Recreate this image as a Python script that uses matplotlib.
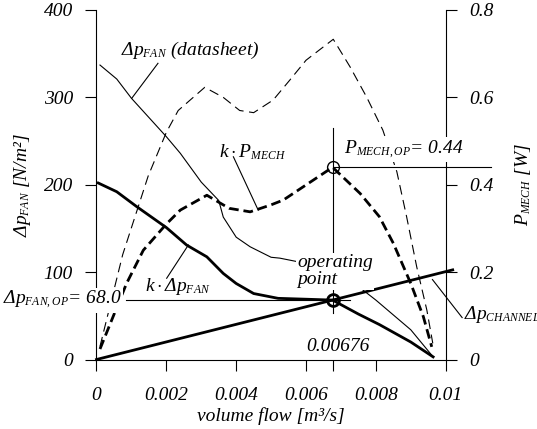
import matplotlib
matplotlib.use("Agg")
import matplotlib.pyplot as plt
import matplotlib._mathtext as mathtext_internals

# the original drawing uses rather small subscripts
mathtext_internals.SHRINK_FACTOR = 0.6

plt.rcParams['font.family'] = ['Liberation Serif', 'DejaVu Serif']
plt.rcParams['font.style'] = 'italic'
plt.rcParams['font.size'] = 14
plt.rcParams['mathtext.fontset'] = 'custom'
plt.rcParams['mathtext.rm'] = 'Liberation Serif'
plt.rcParams['mathtext.it'] = 'Liberation Serif:italic'
plt.rcParams['mathtext.bf'] = 'Liberation Serif:bold'
plt.rcParams['lines.scale_dashes'] = False

# fan curve from datasheet [N/m2]
flow_ds = [0.0001, 0.00058, 0.001, 0.002, 0.0024, 0.003, 0.0035, 0.00363, 0.004,
           0.0044, 0.005, 0.00525, 0.006, 0.00697, 0.008, 0.009, 0.00964]
dp_ds = [337, 321, 299, 255, 236, 203, 182, 163, 140, 129, 117, 116, 110, 100, 68, 34, 3]

# corrected fan curve k*dp
flow_k = [0.00005, 0.00058, 0.00115, 0.002, 0.00258, 0.00316, 0.00363, 0.004, 0.0045,
          0.0052, 0.006, 0.00676, 0.0075, 0.0081, 0.009, 0.00964]
dp_k = [202, 192, 175, 151, 131, 117.5, 98.5, 87, 75.5, 70, 69, 68, 52, 40, 20, 3]

# mechanical power [W]
flow_p = [0.0001, 0.00075, 0.00148, 0.002, 0.00234, 0.0031, 0.00363, 0.0041, 0.0045,
          0.00506, 0.00554, 0.006, 0.00678, 0.00726, 0.00774, 0.0082, 0.0086, 0.00888,
          0.00917, 0.00946, 0.00963]
p_mech = [0.03, 0.24, 0.42, 0.52, 0.57, 0.623, 0.60, 0.57, 0.565, 0.594, 0.64, 0.685,
          0.733, 0.67, 0.60, 0.525, 0.43, 0.327, 0.212, 0.113, 0.037]

flow_kp = [0.0001, 0.00086, 0.00134, 0.002, 0.0024, 0.00316, 0.0038, 0.0044, 0.005,
           0.00535, 0.00676, 0.00755, 0.0081, 0.0085, 0.009, 0.00936, 0.0096]
kp_mech = [0.024, 0.174, 0.25, 0.31, 0.342, 0.376, 0.346, 0.338, 0.354, 0.365, 0.44,
           0.38, 0.327, 0.266, 0.174, 0.098, 0.029]

# channel characteristic
flow_ch = [0, 0.0102]
dp_ch = [0, 102.6]

# operating point
q_op = 0.00676
dp_op = 68.0
p_op = 0.44

xticks = [0, 0.002, 0.004, 0.006, q_op, 0.008, 0.01]
xticklabels = ['0', '0.002', '0.004', '0.006', '', '0.008', '0.01']
yticks = [0, 100, 200, 300, 400]
yticks_r = [0, 0.2, 0.4, 0.6, 0.8]
yticklabels_r = ['0', '0.2', '0.4', '0.6', '0.8']

fig = plt.figure(figsize=(5.37, 4.29), dpi=100)
ax = fig.add_axes([0.1797, 0.1620, 0.6503, 0.8147])
ax2 = ax.twinx()

thin = 0.8
thick = 2.0

ax.plot(flow_ds, dp_ds, 'k-', lw=thin)
ax.plot(flow_k, dp_k, 'k-', lw=thick)
ax.plot(flow_ch, dp_ch, 'k-', lw=thick, clip_on=False)
ax2.plot(flow_p, p_mech, 'k', lw=thin, dashes=(7, 4))
ax2.plot(flow_kp, kp_mech, 'k', lw=thick, dashes=(7, 3.5))

# operating point helper lines and markers
ax.plot([q_op, q_op], [53, 265], 'k-', lw=thin)
ax.plot([0.00085, 0.00726], [dp_op, dp_op], 'k-', lw=thin)
ax2.plot([q_op, 0.0113], [p_op, p_op], 'k-', lw=thin, clip_on=False)
ax.plot(q_op, dp_op, 'o', mfc='none', mec='k', ms=8.5, mew=2, clip_on=False)
ax2.plot(q_op, p_op, 'o', mfc='none', mec='k', ms=8.5, mew=1)

ax.set_xlim(0, 0.01)
ax.set_ylim(0, 400)
ax2.set_ylim(0, 0.8)

ax.set_xticks(xticks)
ax.set_xticklabels(xticklabels)
ax.set_yticks(yticks)
ax2.set_yticks(yticks_r)
ax2.set_yticklabels(yticklabels_r)

for a in (ax, ax2):
    a.spines['top'].set_visible(False)
    for s in a.spines.values():
        s.set_linewidth(thin)
ax.spines['right'].set_visible(False)
ax2.spines['left'].set_visible(False)
ax2.spines['bottom'].set_visible(False)

ax.tick_params(axis='x', direction='out', length=8, width=thin, pad=12, labelsize=14)
ax.tick_params(axis='y', direction='out', length=8, width=thin, pad=9, labelsize=14)
ax2.tick_params(axis='y', direction='out', length=8, width=thin, pad=9, labelsize=14)
for lab in ax.get_xticklabels() + ax.get_yticklabels() + ax2.get_yticklabels():
    lab.set_fontstyle('italic')

ax.set_xlabel('volume flow [m³/s]', labelpad=2)
ax.set_ylabel(r'$\Delta p_{FAN}$ [N/m²]', labelpad=8)
ax2.set_ylabel(r'$P_{MECH}$ [W]', labelpad=14)

# annotations drawn on the top axes, in left-axis units
box = dict(facecolor='white', edgecolor='none', pad=1)
tr = ax.transData


def note(x, y, s, **kw):
    ax2.text(x, y, s, transform=tr, bbox=box, zorder=5, **kw)


def leader(x0, y0, x1, y1):
    ax2.plot([x0, x1], [y0, y1], 'k-', lw=thin, transform=tr, zorder=6, clip_on=False)


note(0.0007, 354, r'$\Delta p_{FAN}$ (datasheet)', ha='left', va='center')
leader(0.00176, 339, 0.00101, 299)

note(0.00351, 237, r'$k\cdot P_{MECH}$', ha='left', va='center')
leader(0.00392, 232, 0.00463, 171)

note(0.00709, 240, r'$P_{MECH,OP}$= %.2f' % p_op, ha='left', va='center')

note(0.00139, 83, r'$k\cdot\Delta p_{FAN}$', ha='left', va='center')
leader(0.00201, 93, 0.00263, 131)

note(0.00072, dp_op, r'$\Delta p_{FAN,OP}$= %.1f' % dp_op, ha='right', va='center')

note(0.00574, 101, 'operating\npoint', ha='left', va='center', linespacing=1.0)

note(0.01052, 51, r'$\Delta p_{CHANNEL}$', ha='left', va='center')
leader(0.00962, 91.5, 0.01047, 48)

note(0.00692, 14.6, '%.5f' % q_op, ha='center', va='center')

fig.savefig('out.png', dpi=100)
